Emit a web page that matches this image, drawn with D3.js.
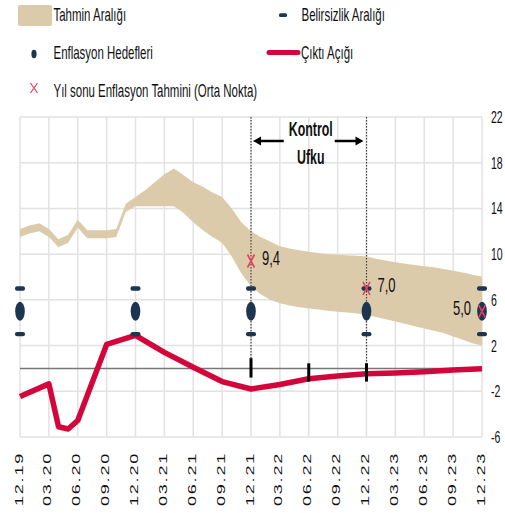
<!DOCTYPE html>
<html>
<head>
<meta charset="utf-8">
<script src="https://cdn.jsdelivr.net/npm/d3@7"></script>
<style>
  body { margin: 0; background: #fff; }
  text { font-family: "Liberation Sans", Arial, sans-serif; fill: #111; }
</style>
</head>
<body>
<div class="container"></div>
<script>
const size = {width: 505, height: 513};

// quarter tick labels (one every 3 months, 12.19 = month 0)
const quarterLabels = ["12.19","03.20","06.20","09.20","12.20","03.21","06.21","09.21","12.21",
                       "03.22","06.22","09.22","12.22","03.23","06.23","09.23","12.23"];
const yTicks = [22, 18, 14, 10, 6, 2, -2, -6];

// Tahmin araligi, monthly from 12.19 (month 0) to 12.23 (month 48)
const bandLow  = [11.5, 11.8, 12.0, 11.5, 10.6, 11.0, 12.3, 11.4, 11.4, 11.4, 11.5, 13.7,
                  14.2, 14.2, 14.2, 14.2, 14.2, 13.6, 12.8, 12.1, 11.5, 11.0, 9.8, 8.3,
                  7.2, 6.5, 6.0, 5.7, 5.5, 5.35, 5.25, 5.15, 5.05, 4.95, 4.9, 4.8,
                  4.7, 4.5, 4.3, 4.1, 3.9, 3.7, 3.5, 3.3, 3.1, 2.8, 2.5, 2.2, 2.0];
const bandHigh = [12.2, 12.5, 12.7, 12.2, 11.3, 11.7, 13.0, 12.1, 12.1, 12.1, 12.2, 14.4,
                  15.0, 15.6, 16.3, 17.0, 17.5, 16.9, 16.3, 15.9, 15.4, 15.0, 14.0, 12.8,
                  12.0, 11.5, 11.1, 10.7, 10.5, 10.35, 10.2, 10.1, 10.0, 9.95, 9.9, 9.85,
                  9.8, 9.6, 9.45, 9.3, 9.15, 9.05, 8.95, 8.85, 8.7, 8.55, 8.4, 8.2, 8.05];

// Cikti acigi
const gapMonths = [0, 3, 4, 5, 6, 9, 12, 15, 18, 21, 24, 27, 30, 33, 36, 39, 42, 45, 48];
const gapValues = [-2.45, -1.35, -5.1, -5.3, -4.55, 2.1, 2.9, 1.4, 0.1, -1.15, -1.8, -1.4,
                   -0.9, -0.67, -0.47, -0.4, -0.28, -0.13, -0.02];

// Enflasyon hedefleri ve belirsizlik araligi
const targetMonths = [0, 12, 24, 36, 48];
const targetValues = [5, 5, 5, 5, 5];
const uncertLow  = [3, 3, 3, 3, 3];
const uncertHigh = [7, 7, 7, 7, 7];

// Yil sonu enflasyon tahmini (orta nokta)
const forecastMonths = [24, 36, 48];
const forecastValues = [9.4, 7.0, 5.0];
const forecastLabels = ["9,4", "7,0", "5,0"];

// kontrol ufku and the small black bars on the zero line
const horizonMonths = [24, 36];
const barMonths = [24, 30, 36];
const barTop = [0.9, 0.45, 0.45];
const barBottom = [-0.8, -1.15, -1.15];

const colors = {band: "#dccbab", gap: "#d4053b", navy: "#1c3550", cross: "#e0435f", grid: "#e2e2e2"};
const sx = 0.62; // the picture is narrow, so text is squeezed sideways

const svg = d3.select(".container").append("svg")
    .attr("width", size.width)
    .attr("height", size.height);

const x = d3.scaleLinear().domain([0, 48]).range([20, 482]);
const y = d3.scaleLinear().domain([-6, 22]).range([437, 117]);

const txt = (g, px, py, str, fs, weight, anchor) =>
    g.append("text")
     .attr("transform", `translate(${px},${py}) scale(${sx},1)`)
     .attr("font-size", fs)
     .attr("font-weight", weight || "normal")
     .attr("text-anchor", anchor || "start")
     .text(str);

// grid
const grid = svg.append("g");
grid.selectAll("line.h").data(yTicks).enter().append("line")
    .attr("x1", x(0)).attr("x2", x(48))
    .attr("y1", d => y(d)).attr("y2", d => y(d))
    .attr("stroke", colors.grid).attr("stroke-width", 1.5);
grid.selectAll("line.v").data(quarterLabels).enter().append("line")
    .attr("x1", (d, i) => x(i * 3)).attr("x2", (d, i) => x(i * 3))
    .attr("y1", y(22)).attr("y2", y(-6))
    .attr("stroke", colors.grid).attr("stroke-width", 1.5);

// band
const area = d3.area()
    .x((d, i) => x(i))
    .y0((d, i) => y(bandLow[i]))
    .y1((d, i) => y(bandHigh[i]));
svg.append("path").datum(bandLow)
    .attr("d", area)
    .attr("fill", colors.band);

// zero line
svg.append("line")
    .attr("x1", x(0)).attr("x2", x(48))
    .attr("y1", y(0)).attr("y2", y(0))
    .attr("stroke", "#777").attr("stroke-width", 1.5);

// dotted horizon lines
svg.selectAll("line.hz").data(horizonMonths).enter().append("line")
    .attr("x1", d => x(d)).attr("x2", d => x(d))
    .attr("y1", y(22)).attr("y2", y(0))
    .attr("stroke", "#444").attr("stroke-width", 1.2)
    .attr("stroke-dasharray", "1.5,1.5");

// output gap
const line = d3.line()
    .x((d, i) => x(gapMonths[i]))
    .y(d => y(d));
svg.append("path").datum(gapValues)
    .attr("d", line)
    .attr("fill", "none")
    .attr("stroke", colors.gap)
    .attr("stroke-width", 5.5)
    .attr("stroke-linejoin", "round");

// black bars on zero line
svg.selectAll("rect.bar").data(barMonths).enter().append("rect")
    .attr("x", d => x(d) - 1.5)
    .attr("y", (d, i) => y(barTop[i]))
    .attr("width", 3)
    .attr("height", (d, i) => y(barBottom[i]) - y(barTop[i]))
    .attr("fill", "#000");

// uncertainty dashes
const dashes = svg.append("g");
[uncertLow, uncertHigh].forEach(arr => {
    dashes.selectAll(null).data(targetMonths).enter().append("rect")
        .attr("x", d => x(d) - 5)
        .attr("y", (d, i) => y(arr[i]) - 2.2)
        .attr("width", 10).attr("height", 4.4)
        .attr("rx", 2)
        .attr("fill", colors.navy);
});

// targets
svg.selectAll("ellipse.t").data(targetMonths).enter().append("ellipse")
    .attr("cx", d => x(d))
    .attr("cy", (d, i) => y(targetValues[i]))
    .attr("rx", 4.8).attr("ry", 9.5)
    .attr("fill", colors.navy);

// forecast crosses
const cross = (g, cx, cy, w, h, sw) =>
    g.append("path")
     .attr("d", `M${cx - w / 2},${cy - h / 2}L${cx + w / 2},${cy + h / 2}M${cx + w / 2},${cy - h / 2}L${cx - w / 2},${cy + h / 2}`)
     .attr("stroke", colors.cross).attr("stroke-width", sw).attr("fill", "none");
forecastMonths.forEach((m, i) => cross(svg, x(m), y(forecastValues[i]), 7, 13, 1.6));

forecastLabels.forEach((t, i) => {
    const last = i === forecastLabels.length - 1;
    txt(svg, x(forecastMonths[i]) + (last ? -11 : 11), y(forecastValues[i]) + 3.5, t, 21, "normal", last ? "end" : "start");
});

// kontrol ufku
const mid = (x(horizonMonths[0]) + x(horizonMonths[1])) / 2;
txt(svg, mid + 2, 136, "Kontrol", 20, "bold", "middle");
txt(svg, mid + 2, 164, "Ufku", 20, "bold", "middle");
const ay = 141;
svg.append("path")
    .attr("d", `M${mid - 25},${ay}L${x(horizonMonths[0]) + 9},${ay}`)
    .attr("stroke", "#000").attr("stroke-width", 2.5);
svg.append("path")
    .attr("d", `M${x(horizonMonths[0]) + 2},${ay}L${x(horizonMonths[0]) + 10},${ay - 4.5}L${x(horizonMonths[0]) + 10},${ay + 4.5}Z`)
    .attr("fill", "#000");
svg.append("path")
    .attr("d", `M${mid + 26},${ay}L${x(horizonMonths[1]) - 9},${ay}`)
    .attr("stroke", "#000").attr("stroke-width", 2.5);
svg.append("path")
    .attr("d", `M${x(horizonMonths[1]) - 3},${ay}L${x(horizonMonths[1]) - 11},${ay - 4.5}L${x(horizonMonths[1]) - 11},${ay + 4.5}Z`)
    .attr("fill", "#000");

// right axis labels
const ax = svg.append("g");
yTicks.forEach(t => txt(ax, 491, y(t) + 6, String(t), 17, "normal", "start"));

// bottom labels, rotated
quarterLabels.forEach((l, i) => {
    ax.append("text")
      .attr("transform", `translate(${x(i * 3) + 2.5},452) scale(${sx},1) rotate(-90)`)
      .attr("font-size", 18)
      .attr("letter-spacing", 1.8)
      .attr("text-anchor", "end")
      .attr("fill", "#222")
      .text(l);
});

// legend
const lg = svg.append("g");
lg.append("rect").attr("x", 18).attr("y", 5).attr("width", 34).attr("height", 21).attr("rx", 2)
    .attr("fill", colors.band);
txt(lg, 53.5, 20.5, "Tahmin Aralığı", 18.5);
lg.append("rect").attr("x", 279).attr("y", 13.3).attr("width", 8).attr("height", 3.6).attr("rx", 1.5)
    .attr("fill", colors.navy);
txt(lg, 301.5, 20.5, "Belirsizlik Aralığı", 18.5);
lg.append("ellipse").attr("cx", 34).attr("cy", 54).attr("rx", 2.6).attr("ry", 4.2)
    .attr("fill", colors.navy);
txt(lg, 53.5, 59, "Enflasyon Hedefleri", 18.5);
lg.append("line").attr("x1", 269).attr("x2", 298).attr("y1", 52.5).attr("y2", 52.5)
    .attr("stroke", colors.gap).attr("stroke-width", 5).attr("stroke-linecap", "round");
txt(lg, 301, 59, "Çıktı Açığı", 18.5);
cross(lg, 34, 88, 7, 10, 1.2);
txt(lg, 53.5, 96.5, "Yıl sonu Enflasyon Tahmini (Orta Nokta)", 18.5);
</script>
</body>
</html>
